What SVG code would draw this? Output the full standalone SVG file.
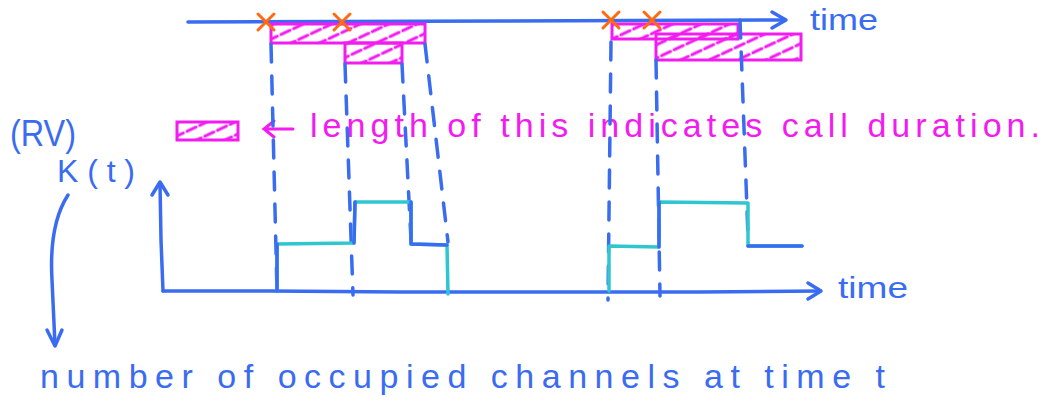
<svg xmlns="http://www.w3.org/2000/svg" width="1050" height="403" viewBox="0 0 1050 403">
<style>
.blue{stroke:#3a6cf2;stroke-width:3.5;fill:none;stroke-linecap:round;stroke-linejoin:round}
.dash{stroke:#3a6cf2;stroke-width:3.5;fill:none;stroke-linecap:round;stroke-dasharray:18 14}
.cyan{stroke:#2fc6cf;stroke-width:3.5;fill:none;stroke-linecap:round;stroke-linejoin:round}
.pink{stroke:#f21cf0;stroke-width:3;fill:url(#hatch)}
.pinkline{stroke:#f21cf0;stroke-width:3;fill:none;stroke-linecap:round}
.orange{stroke:#ff6a10;stroke-width:3;stroke-linecap:round}
.tb{font-family:"Liberation Sans",sans-serif;fill:#3a6cf2}
.tp{font-family:"Liberation Sans",sans-serif;fill:#f21cf0}
</style>
<defs>
<pattern id="hatch" patternUnits="userSpaceOnUse" width="14" height="12" patternTransform="rotate(-25)">
<line x1="2" y1="6" x2="12" y2="6" stroke="#f21cf0" stroke-width="3" stroke-linecap="round"/>
</pattern>
</defs>

<g id="top-timeline">
<path class="blue" d="M188,22 L500,21 L785,20"/>
<path class="blue" d="M772,12 L786,20 L772,28"/>
<text class="tb" x="810" y="30" font-size="30" textLength="68" lengthAdjust="spacingAndGlyphs">time</text>
</g>

<g id="calls">
<rect class="pink" x="271" y="24" width="154" height="19"/>
<rect class="pink" x="345" y="43" width="57" height="20"/>
<rect class="pink" x="612" y="24" width="126" height="15"/>
<rect class="pink" x="656" y="34" width="145" height="26"/>
</g>

<g id="arrivals">
<path class="orange" d="M258,14 L274,30 M274,14 L258,30"/>
<path class="orange" d="M334,14 L350,30 M350,14 L334,30"/>
<path class="orange" d="M603,12 L619,28 M619,12 L603,28"/>
<path class="orange" d="M644,12 L660,28 M660,12 L644,28"/>
</g>

<g id="legend">
<rect class="pink" x="177" y="122" width="61" height="18"/>
<path class="pinkline" d="M293,129 L264,129 M274,121 L264,129 L274,137"/>
<text class="tp" x="310" y="137" font-size="34" textLength="730" lengthAdjust="spacing">length of this indicates call duration.</text>
</g>

<g id="labels">
<text class="tb" x="10" y="146" font-size="36" textLength="66" lengthAdjust="spacingAndGlyphs">(RV)</text>
<text class="tb" x="57" y="182" font-size="32" textLength="78" lengthAdjust="spacing">K(t)</text>
<text class="tb" x="40" y="388" font-size="34" textLength="845" lengthAdjust="spacing">number of occupied channels at time t</text>
</g>

<g id="axes">
<path class="blue" d="M163,291 L161,240 L160,183"/>
<path class="blue" d="M152,195 L160,182 L168,195"/>
<path class="blue" d="M163,291 L270,291 L400,292 L600,292 L700,292 L820,291"/>
<path class="blue" d="M808,283 L821,291 L808,299"/>
<text class="tb" x="838" y="298" font-size="30" textLength="70" lengthAdjust="spacingAndGlyphs">time</text>
</g>

<g id="connectors">
<path class="dash" d="M271,44 L277,292"/>
<path class="dash" d="M345,64 L353,295"/>
<path class="dash" d="M402,64 L411,240"/>
<path class="dash" d="M425,44 L448,242"/>
<path class="dash" d="M611,42 L608,300"/>
<path class="dash" d="M656,60 L660,296"/>
<path class="dash" d="M740,20 L748,236"/>
<path class="blue" d="M68,195 C55,215 50,245 52,280 L55,345"/>
<path class="blue" d="M47,330 L55,346 L62,330"/>
</g>

<g id="occupancy">
<path class="cyan" d="M277,291 L277,244 L354,243 L355,202 L411,202 L411,244 L447,245 L448,294"/>
<path class="blue" d="M277,291 L277,244 M354,243 L355,202 M411,202 L411,244 L447,245"/>
<path class="cyan" d="M609,291 L609,246 L659,247 L659,202 L748,203 L748,246 L802,246"/>
<path class="blue" d="M659,247 L659,202 M748,246 L802,246"/>
</g>
</svg>
